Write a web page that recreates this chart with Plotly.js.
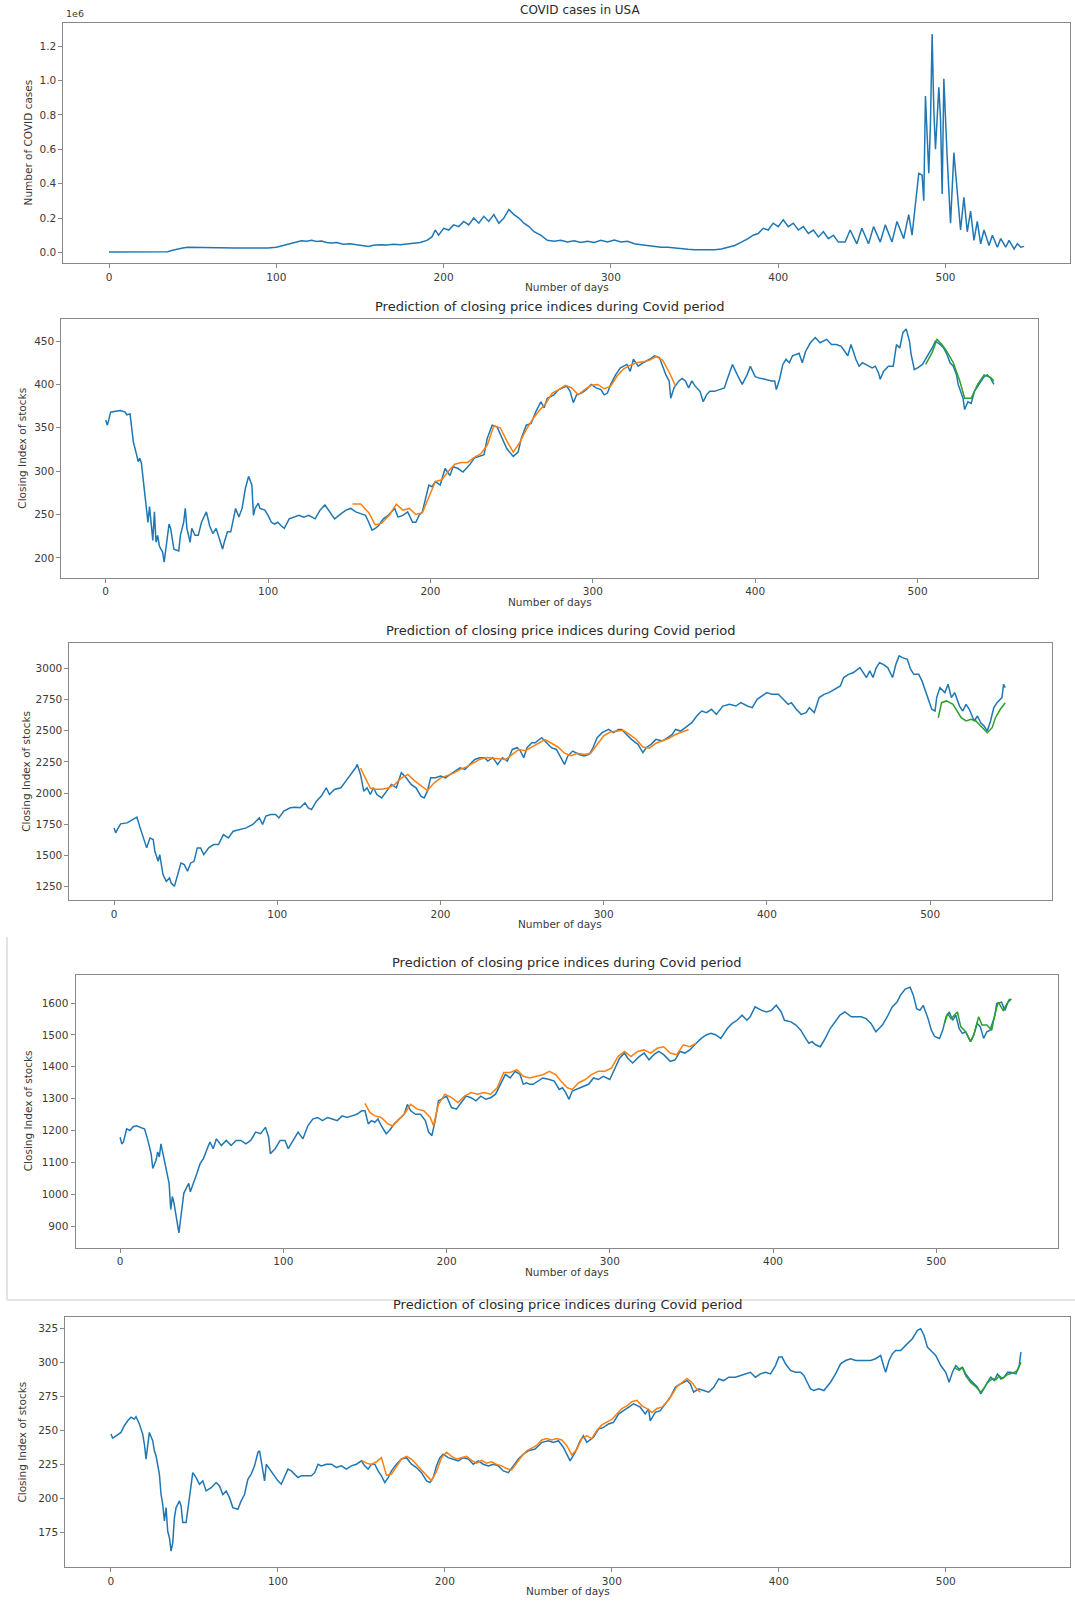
<!DOCTYPE html>
<html>
<head>
<meta charset="utf-8">
<script src="https://cdn.plot.ly/plotly-3.0.1.min.js"></script>
<style>html,body{margin:0;padding:0;background:#fff;}#chart{width:1075px;height:1601px;}</style>
</head>
<body>
<div id="chart"></div>
<script>
// ---------- DATA ----------
const xTicks = [0, 100, 200, 300, 400, 500];

// Panel 1: COVID cases in USA (units of 1e6)
const casesDays = [0,10,20,30,35,38,41,44,47,50,55,60,65,70,75,80,85,90,95,100,104,108,112,115,118,121,124,127,130,133,136,140,144,148,152,155,158,162,166,170,174,178,182,186,190,193,195,197,200,203,206,209,212,215,218,221,224,227,230,233,236,239,242,245,248,251,254,258,262,266,270,274,278,282,286,290,294,298,302,306,310,314,318,322,326,330,334,338,342,346,350,354,358,362,366,370,374,378,382,385,388,391,394,397,400,403,406,409,412,415,418,421,424,427,430,433,436,440,443,447,450,454,457,461,464,468,471,475,478,480,482,484,486,487,488,490,491,492,493,494,496,497,498,499,501,503,505,507,509,511,513,515,517,519,521,523,526,528,531,533,536,538,541,543,545,547];
const casesMillions = [0.003,0.003,0.003,0.003,0.004,0.012,0.02,0.025,0.03,0.03,0.029,0.028,0.029,0.027,0.026,0.025,0.025,0.024,0.026,0.03,0.04,0.048,0.06,0.068,0.065,0.07,0.063,0.066,0.058,0.055,0.058,0.048,0.05,0.045,0.042,0.035,0.042,0.045,0.043,0.047,0.045,0.05,0.055,0.058,0.07,0.09,0.13,0.1,0.14,0.13,0.16,0.15,0.18,0.16,0.2,0.17,0.21,0.18,0.22,0.17,0.2,0.25,0.22,0.2,0.17,0.15,0.12,0.1,0.07,0.065,0.07,0.06,0.068,0.058,0.065,0.058,0.07,0.06,0.072,0.06,0.065,0.05,0.045,0.04,0.035,0.03,0.03,0.025,0.02,0.018,0.016,0.015,0.015,0.016,0.02,0.03,0.04,0.06,0.08,0.1,0.11,0.14,0.13,0.17,0.15,0.19,0.15,0.17,0.13,0.15,0.11,0.13,0.09,0.12,0.08,0.1,0.06,0.06,0.13,0.05,0.14,0.05,0.15,0.06,0.16,0.06,0.18,0.08,0.22,0.1,0.28,0.46,0.45,0.3,0.91,0.46,0.75,1.27,0.83,0.6,0.96,0.78,0.34,1.01,0.55,0.17,0.58,0.35,0.13,0.32,0.12,0.24,0.07,0.18,0.05,0.13,0.04,0.1,0.03,0.08,0.03,0.07,0.02,0.05,0.03,0.035];
const casesTicks = [0, 0.2, 0.4, 0.6, 0.8, 1.0, 1.2];

// Panel 2: stock index A
const aDays = [0,1,2,3,6,9,12,13,15,17,19,20,21,22,23,24,25,26,27,28,29,30,31,32,33,34,35,36,37,38,39,40,41,42,45,46,48,49,50,52,53,55,57,59,62,64,66,68,70,72,73,75,77,80,82,84,86,88,90,91,92,94,95,98,100,102,104,106,108,110,113,116,119,122,125,129,132,135,138,141,145,148,151,154,157,160,162,164,166,168,171,174,178,180,183,186,189,191,193,195,199,201,203,206,209,212,214,217,220,224,227,230,233,235,238,241,244,247,251,254,256,259,262,265,268,270,272,276,279,282,284,286,288,290,293,296,299,302,305,307,309,311,314,317,321,323,325,328,331,335,338,341,343,345,347,348,350,353,355,357,359,361,363,366,368,370,372,375,378,381,383,386,389,392,395,397,400,403,406,410,412,413,415,417,419,421,423,427,429,431,434,437,440,444,447,450,453,457,459,462,464,466,468,472,474,476,477,479,482,485,487,489,491,493,495,496,498,500,503,505,507,509,511,514,516,518,520,522,524,525,528,529,531,533,535,539,541,543,545,547];
const aActual = [359,353,360,368,369,370,368,365,366,334,319,311,315,309,292,272,253,241,259,241,220,253,218,226,214,210,207,195,210,226,239,234,222,210,208,226,241,257,234,218,234,226,226,241,253,237,228,234,222,210,218,230,230,257,247,257,280,294,284,249,257,263,257,255,249,241,239,241,237,234,245,247,249,247,249,245,255,261,253,245,251,255,257,253,251,249,241,232,234,237,245,249,257,247,249,253,241,241,249,253,284,282,288,284,303,295,305,303,299,307,315,317,319,338,353,351,338,326,317,322,338,353,355,369,380,373,384,388,394,396,398,392,379,388,390,394,400,396,394,388,390,400,411,419,423,415,429,421,425,429,433,431,421,411,404,384,396,404,407,404,396,404,398,392,380,388,392,392,394,396,407,423,411,400,411,421,409,407,406,404,404,394,406,423,429,425,433,436,425,438,448,454,448,452,446,446,444,433,446,429,421,425,423,419,421,413,406,415,421,421,446,442,460,464,450,435,417,419,423,429,435,442,450,446,442,435,425,421,411,400,384,371,380,378,392,404,409,411,407,400];
const aTrainDays = [152,157,162,166,170,175,179,183,187,191,195,199,203,207,211,215,219,223,227,231,235,239,243,247,251,255,259,263,267,271,275,279,283,287,291,295,299,303,307,311,315,319,323,327,331,335,339,343,347,351];
const aTrainPred = [262,262,252,238,240,250,262,255,257,250,252,270,288,290,300,308,310,310,316,320,330,352,350,335,322,333,348,360,370,378,390,394,399,396,388,394,399,400,395,398,410,418,422,425,426,428,432,428,414,398];
const aTestDays = [505,509,512,515,518,522,526,529,533,537,541,545,547];
const aTestPred = [423,437,452,446,438,425,404,384,384,400,411,408,404];

// Panel 3: stock index B
const bDays = [0,1,2,4,8,12,14,16,18,20,22,24,25,27,28,30,32,34,35,37,39,41,43,45,47,49,51,53,55,58,61,64,67,70,73,77,81,85,89,91,93,96,99,101,104,108,111,114,117,119,121,124,127,130,132,135,139,142,145,148,149,151,153,155,157,159,161,164,167,170,173,176,179,182,185,188,190,192,194,197,200,203,206,209,212,215,218,221,224,227,229,232,235,238,241,244,247,249,251,253,256,258,262,265,268,271,273,276,278,281,285,288,291,293,296,299,303,306,309,311,314,317,321,324,326,329,332,336,339,342,344,347,350,354,357,360,363,366,369,373,377,381,384,388,391,394,397,400,403,407,410,413,415,418,421,424,426,429,432,435,438,442,445,447,450,453,457,459,461,463,465,467,469,471,474,477,479,481,483,486,488,490,493,495,497,499,501,503,504,506,509,511,513,515,518,520,522,524,527,529,531,533,535,537,539,541,544,545,546];
const bActual = [1720,1680,1706,1752,1760,1787,1806,1720,1639,1559,1639,1626,1532,1451,1505,1344,1290,1317,1277,1250,1344,1438,1425,1371,1438,1451,1559,1559,1505,1559,1586,1586,1666,1639,1693,1706,1720,1747,1800,1747,1814,1827,1827,1800,1854,1881,1886,1881,1921,1881,1867,1934,1975,2042,1988,2028,2042,2096,2149,2203,2230,2149,2015,2042,1988,2042,1988,1961,2015,2069,2042,2163,2122,2069,2042,1975,1961,2015,2122,2122,2136,2122,2149,2176,2203,2190,2230,2270,2284,2284,2257,2284,2230,2284,2257,2350,2364,2337,2284,2364,2404,2404,2444,2404,2364,2350,2297,2230,2297,2337,2310,2297,2310,2350,2444,2485,2511,2485,2511,2511,2471,2431,2391,2324,2364,2391,2431,2418,2444,2471,2511,2498,2525,2565,2619,2659,2646,2673,2632,2699,2713,2699,2726,2699,2686,2753,2780,2807,2793,2793,2753,2713,2726,2673,2632,2646,2686,2646,2767,2793,2807,2834,2860,2928,2954,2968,3008,2968,2928,2981,2928,3008,3048,3035,3008,2928,3035,3102,3088,3075,2995,2954,2954,2901,2820,2740,2673,2659,2767,2847,2807,2874,2767,2807,2699,2659,2713,2673,2579,2619,2565,2538,2498,2579,2686,2726,2767,2874,2847];
const bTrainDays = [151,154,157,160,164,168,172,176,180,184,188,192,196,200,204,208,212,216,220,224,228,232,236,240,244,248,252,256,260,264,268,272,276,280,284,288,292,296,300,304,308,312,316,320,324,328,332,336,340,344,348,352];
const bTrainPred = [2200,2120,2040,2030,2030,2040,2070,2120,2150,2100,2060,2020,2080,2120,2140,2160,2190,2210,2240,2270,2285,2280,2270,2270,2310,2350,2340,2370,2400,2430,2400,2370,2320,2300,2320,2310,2320,2390,2460,2490,2500,2505,2470,2430,2370,2360,2400,2420,2440,2470,2490,2510];
const bTestDays = [505,507,510,514,519,522,525,528,531,535,538,540,543,546];
const bTestPred = [2605,2726,2740,2713,2605,2579,2592,2579,2538,2485,2525,2605,2673,2726];

// Panel 4: stock index C
const cDays = [0,1,2,3,4,6,8,10,13,15,17,19,20,22,23,24,25,27,28,29,30,31,32,33,34,36,37,38,39,40,42,43,45,47,49,51,53,55,57,59,62,65,68,71,74,77,80,83,86,89,91,92,95,98,101,103,106,109,112,115,118,121,124,127,130,133,136,139,142,145,148,150,152,154,156,158,160,163,165,168,171,174,176,178,181,184,187,189,191,193,195,198,200,203,206,209,212,215,218,221,224,227,230,233,236,239,242,245,247,249,251,253,256,259,263,266,269,271,273,275,277,281,284,287,290,293,296,300,303,306,309,311,314,318,321,324,327,330,333,337,340,343,346,349,352,356,359,362,365,368,372,375,378,381,384,386,389,393,396,399,402,405,407,411,414,417,420,422,424,426,429,432,435,438,441,444,448,451,454,457,460,463,467,470,473,476,478,481,484,486,488,490,492,495,497,499,502,504,506,508,510,512,514,516,518,521,523,525,527,529,531,533,536,537,540,542,544,546];
const cActual = [1179,1158,1164,1184,1205,1200,1212,1215,1210,1205,1169,1127,1081,1107,1133,1117,1158,1107,1076,1055,1034,952,993,972,941,879,920,962,1003,1014,1034,1008,1034,1065,1096,1112,1138,1164,1143,1174,1153,1169,1153,1169,1169,1158,1169,1195,1190,1210,1179,1127,1143,1169,1169,1143,1169,1195,1174,1215,1236,1241,1231,1241,1236,1231,1246,1241,1246,1251,1262,1262,1221,1231,1226,1236,1215,1190,1200,1221,1236,1251,1282,1262,1251,1251,1231,1195,1184,1231,1293,1303,1308,1272,1267,1288,1308,1303,1293,1308,1298,1303,1314,1345,1376,1365,1386,1376,1345,1350,1345,1345,1355,1365,1360,1355,1329,1334,1319,1298,1324,1334,1339,1345,1365,1360,1370,1360,1396,1427,1443,1427,1412,1432,1443,1422,1438,1448,1438,1417,1422,1448,1443,1453,1469,1489,1500,1505,1500,1489,1520,1536,1546,1562,1546,1557,1588,1577,1572,1577,1593,1572,1546,1541,1531,1515,1489,1474,1479,1469,1463,1489,1520,1541,1562,1572,1557,1557,1557,1551,1536,1510,1531,1557,1588,1603,1624,1644,1650,1624,1582,1577,1593,1551,1515,1495,1489,1515,1557,1572,1546,1562,1520,1505,1510,1479,1500,1536,1526,1489,1510,1515,1562,1598,1603,1577,1603,1613];
const cTrainDays = [150,153,156,160,164,167,170,174,178,182,186,190,192,195,199,203,207,211,215,219,223,227,231,235,239,243,247,251,255,259,263,267,270,274,277,281,285,289,293,297,301,305,309,313,317,321,325,329,333,337,341,345,349,353];
const cTrainPred = [1285,1257,1246,1241,1221,1215,1231,1251,1282,1267,1262,1241,1215,1282,1314,1303,1288,1308,1319,1314,1319,1314,1334,1382,1382,1391,1370,1365,1370,1375,1386,1375,1355,1334,1329,1350,1360,1376,1386,1386,1396,1432,1448,1432,1448,1453,1443,1458,1463,1443,1438,1469,1463,1474];
const cTestDays = [505,507,509,513,515,518,521,523,526,528,531,534,536,538,541,545];
const cTestPred = [1536,1567,1551,1572,1526,1510,1479,1500,1557,1531,1531,1515,1567,1603,1577,1613];

// Panel 5: stock index D
const dDays = [0,1,2,4,6,8,10,12,14,15,17,19,20,21,22,23,25,26,27,28,29,30,31,32,33,34,35,36,37,38,39,40,41,42,43,45,47,49,51,53,55,57,60,63,65,67,69,71,73,76,78,80,82,84,86,88,89,90,91,92,93,95,98,100,102,104,106,108,110,112,114,117,120,122,124,126,129,132,135,138,141,144,147,150,152,154,156,158,160,162,164,166,168,171,174,177,180,183,186,189,191,193,195,197,199,202,205,208,211,214,217,220,223,226,229,232,235,238,241,244,247,250,254,258,262,265,268,271,273,275,278,281,283,285,289,292,295,298,301,304,307,310,313,317,320,322,323,326,329,332,335,338,341,345,347,349,352,355,358,361,364,367,370,374,377,380,383,386,389,392,395,398,400,402,404,407,410,413,415,417,419,421,424,427,431,434,437,440,443,446,449,452,455,458,461,463,464,466,468,470,473,476,478,480,483,485,487,489,491,494,497,500,502,504,506,508,510,512,515,517,519,521,523,525,527,529,531,533,535,537,539,542,544,545];
const dActual = [247.3,244.4,245,246.8,248.5,253.4,257,259.6,258.3,260,254.7,247.3,240,229,237.5,248.5,242.4,235,231.4,225.2,218,203,195.8,183.6,193.4,176,171.3,161.5,167.6,186,193.4,195.8,198.3,194.6,182.4,182.4,203,219,215.4,210.5,213,205.6,208,211.8,209.3,203,205.6,200.7,193.4,192.2,198.3,203,214.2,218,224,233.8,235,227.7,222.8,213,225.2,221.6,216.7,213,210.5,216.7,221.6,220.3,218,215.4,216.7,216.7,216.7,219,225.2,224,225.2,225.2,222.8,224,221.6,224,225.2,227.7,224,221.6,225.2,225.2,220.3,216.7,211.8,215.4,220.3,225.2,229,230,225.2,222.8,219,213,211.8,215.4,224,230,232.6,230,229,227.7,230,229,225.2,227.7,225.2,224,225.2,224,220.3,219,224,229,232.6,235,236.3,241.2,242.4,241.2,242.4,237.5,232.6,227.7,233.8,242.4,246,241.2,244.9,251,252.2,254.7,255.9,262,264.5,267,269.4,267,262,265.7,257,263.2,264.5,269.4,274.3,281.6,284,286.5,284,278,280.4,279.2,278,281.6,287.7,286.5,289,289,290.2,291.4,292.6,289,291.4,292.6,291.4,297.5,303.7,303.7,298.8,293.9,292.6,292.6,290.2,285.3,280.4,279.2,280.4,279.2,285.3,291.4,298.8,301.2,302.5,301.2,301.2,301.2,301.2,302.5,304.9,296.3,292.6,301.2,306.1,308.6,308.6,312.3,314.7,317.2,323.3,324.5,319.6,311,308.6,304.9,297.5,292.6,285.3,292.6,297.5,295,296.3,291.4,286.5,284,281.6,276.7,281.6,285.3,289,286.5,291.4,287.7,289,292.6,292.6,291.4,297.5,307.4];
const dTrainDays = [150,153,156,159,162,165,168,171,174,177,180,183,186,189,192,195,198,201,204,207,210,213,216,219,222,225,228,231,234,237,240,243,246,249,252,255,258,261,264,267,270,273,276,279,282,285,288,291,294,297,300,303,306,309,312,315,318,321,324,327,330,333,336,339,342,345,348,351,353];
const dTrainPred = [228,226,225,227,230,217,218,224,229,231,229,225,221,217,213,220,230,234,231,229,230,231,228,226,228,226,227,225,224,222,221,226,231,235,237,239,243,244,243,244,243,239,232,236,244,246,244,250,254,256,258,262,266,268,271,272,268,266,263,266,267,271,276,282,285,288,285,280,278];
const dTestDays = [505,508,510,512,515,518,521,523,525,528,530,532,534,537,540,543,545];
const dTestPred = [296,294,296,290,285,282,278,281,285,288,287,290,288,291,292,294,300];

// Texts
const titleCovid = "COVID cases in USA";
const titlePred = "Prediction of closing price indices during Covid period";
const xLabel = "Number of days";
const yLabelCovid = "Number of COVID cases";
const yLabelStock = "Closing Index of stocks";

// ---------- LAYOUT ----------
const W = 1075, H = 1601;
const BLUE = '#1f77b4', ORANGE = '#ff7f0e', GREEN = '#2ca02c';
const FONT = 'DejaVu Sans, Liberation Sans, sans-serif';
const FRAME = '#888888', TEXT = '#3a3a3a';

const boxes = [
  {l: 63.3, r: 1069.9, t: 22.5,  b: 263.4, yr: [-0.064, 1.337], tx: 580, yl: 27.5},
  {l: 61.3, r: 1038.3, t: 318.5, b: 577.8, yr: [177, 476], tx: 549.8, yl: 22.5},
  {l: 69.4, r: 1051.5, t: 643.2, b: 900.4, yr: [1137, 3204], tx: 561, yl: 26},
  {l: 75.5, r: 1057.6, t: 975.0, b: 1247.5, yr: [833, 1688], tx: 566.5, yl: 28},
  {l: 65.3, r: 1069.9, t: 1317.0, b: 1567.1, yr: [149.8, 333.1], tx: 567.5, yl: 22.5}
];
const yTickSets = [
  {vals: casesTicks, fmt: '.1f'},
  {vals: [200, 250, 300, 350, 400, 450], fmt: 'd'},
  {vals: [1250, 1500, 1750, 2000, 2250, 2500, 2750, 3000], fmt: 'd'},
  {vals: [900, 1000, 1100, 1200, 1300, 1400, 1500, 1600], fmt: 'd'},
  {vals: [175, 200, 225, 250, 275, 300, 325], fmt: 'd'}
];

function baseAxis() {
  return {
    showline: true, mirror: true, linecolor: FRAME, linewidth: 1,
    ticks: 'outside', ticklen: 4, tickwidth: 1, tickcolor: FRAME,
    showgrid: false, zeroline: false, fixedrange: true, automargin: false,
    tickfont: {family: FONT, size: 10.5, color: TEXT}
  };
}

const layout = {
  width: W, height: H,
  margin: {l: 0, r: 0, t: 0, b: 0},
  paper_bgcolor: '#ffffff', plot_bgcolor: '#ffffff',
  showlegend: false,
  annotations: [],
  shapes: [
    {type: 'line', xref: 'paper', yref: 'paper', x0: 7 / W, x1: 7 / W, y0: 1 - 937 / H, y1: 1 - 1300 / H, line: {color: '#e4e4e4', width: 2}},
    {type: 'line', xref: 'paper', yref: 'paper', x0: 7 / W, x1: 1, y0: 1 - 1300 / H, y1: 1 - 1300 / H, line: {color: '#e4e4e4', width: 2}}
  ]
};

boxes.forEach((b, i) => {
  const s = i === 0 ? '' : String(i + 1);
  const xa = Object.assign(baseAxis(), {
    domain: [b.l / W, b.r / W], range: [-27.35, 574.35],
    tickmode: 'array', tickvals: xTicks, anchor: 'y' + s
  });
  const ya = Object.assign(baseAxis(), {
    domain: [1 - b.b / H, 1 - b.t / H], range: b.yr,
    tickmode: 'array', tickvals: yTickSets[i].vals, tickformat: yTickSets[i].fmt,
    anchor: 'x' + s
  });
  layout['xaxis' + s] = xa;
  layout['yaxis' + s] = ya;

  const cx = (b.l + b.r) / 2 / W;
  layout.annotations.push({
    text: i === 0 ? titleCovid : titlePred, xref: 'paper', yref: 'paper',
    x: b.tx / W, y: 1 - (b.t - 3) / H, xanchor: 'center', yanchor: 'bottom', showarrow: false,
    font: {family: FONT, size: i === 0 ? 12 : 13, color: '#2a2a2a'}
  });
  layout.annotations.push({
    text: xLabel, xref: 'paper', yref: 'paper',
    x: cx, y: 1 - (b.b + 16) / H, xanchor: 'center', yanchor: 'top', showarrow: false,
    font: {family: FONT, size: 10.5, color: TEXT}
  });
  layout.annotations.push({
    text: i === 0 ? yLabelCovid : yLabelStock, xref: 'paper', yref: 'paper', textangle: -90,
    x: b.yl / W, y: 1 - (b.t + b.b) / 2 / H, xanchor: 'center', yanchor: 'middle', showarrow: false,
    font: {family: FONT, size: 10.5, color: TEXT}
  });
});
layout.annotations.push({
  text: '1e6', xref: 'paper', yref: 'paper', x: 64 / W, y: 1 - 21 / H,
  xanchor: 'left', yanchor: 'bottom', showarrow: false,
  font: {family: FONT, size: 9.5, color: TEXT}
});

function line(x, y, color, s) {
  return {x: x, y: y, type: 'scatter', mode: 'lines', line: {color: color, width: 1.5},
          xaxis: 'x' + s, yaxis: 'y' + s, hoverinfo: 'skip'};
}

const traces = [
  line(casesDays, casesMillions, BLUE, ''),
  line(aDays, aActual, BLUE, '2'),
  line(aTrainDays, aTrainPred, ORANGE, '2'),
  line(aTestDays, aTestPred, GREEN, '2'),
  line(bDays, bActual, BLUE, '3'),
  line(bTrainDays, bTrainPred, ORANGE, '3'),
  line(bTestDays, bTestPred, GREEN, '3'),
  line(cDays, cActual, BLUE, '4'),
  line(cTrainDays, cTrainPred, ORANGE, '4'),
  line(cTestDays, cTestPred, GREEN, '4'),
  line(dDays, dActual, BLUE, '5'),
  line(dTrainDays, dTrainPred, ORANGE, '5'),
  line(dTestDays, dTestPred, GREEN, '5')
];

Plotly.newPlot('chart', traces, layout, {staticPlot: true, displayModeBar: false});
</script>
</body>
</html>
